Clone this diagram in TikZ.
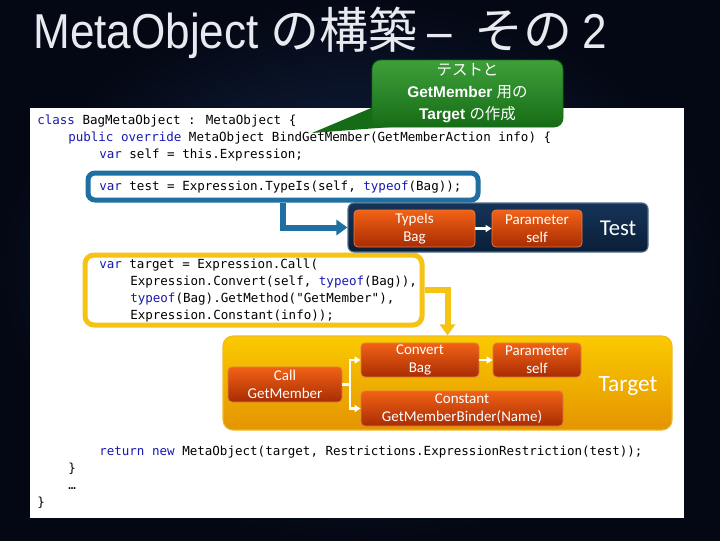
\documentclass[tikz,border=0pt]{standalone}
\usepackage{fontspec}
\setmainfont{Liberation Sans}
\newfontfamily\codefont{DejaVu Sans Mono}
\newfontfamily\jpfont{Noto Sans CJK JP}
\newfontfamily\calfont{Carlito}
\usetikzlibrary{arrows.meta}
\definecolor{bgin}{RGB}{22,42,82}
\definecolor{bgout}{RGB}{4,8,20}
\definecolor{titlecol}{RGB}{232,234,240}
\definecolor{kwcol}{RGB}{25,25,180}
\definecolor{blueline}{RGB}{30,112,162}
\definecolor{yelline}{RGB}{245,195,20}
\definecolor{greentop}{RGB}{62,160,58}
\definecolor{greenbot}{RGB}{22,108,22}
\definecolor{navytop}{RGB}{22,52,88}
\definecolor{navybot}{RGB}{10,30,56}
\definecolor{navybord}{RGB}{80,110,140}
\definecolor{ortop}{RGB}{242,98,22}
\definecolor{orbot}{RGB}{168,44,4}
\definecolor{orbord}{RGB}{225,125,70}
\definecolor{tgtop}{RGB}{250,202,0}
\definecolor{tgbot}{RGB}{228,148,0}
\definecolor{tgbord}{RGB}{240,185,40}
\newcommand{\kw}[1]{\textcolor{kwcol}{#1}}
\tikzset{
  codeline/.style={anchor=base west, inner sep=0pt, text=black,
    font=\codefont\fontsize{9.4}{11}\selectfont},
  titlepart/.style={anchor=base west, inner sep=0pt, text=titlecol,
    font=\fontsize{36.75}{40}\selectfont},
  orangebox/.style={draw=orbord, line width=0.6pt, rounded corners=3pt,
    top color=ortop, bottom color=orbot, text=white, align=center, inner sep=0pt,
    font=\calfont\fontsize{11.25}{13.5}\selectfont},
  codeframe/.style={line width=3.75pt, rounded corners=5.25pt, inner sep=0pt},
  bigarrow/.style={line width=4.5pt, -{Triangle[width=11.25pt,length=8.25pt]}},
  whitearrow/.style={white, line width=1.9pt, -{Triangle[width=5.25pt,length=4.5pt]}},
  biglabel/.style={text=white, inner sep=0pt, font=\calfont\fontsize{17}{20}\selectfont}
}
\begin{document}
\begin{tikzpicture}[x=0.75pt,y=-0.75pt]
\useasboundingbox (0,0) rectangle (720,540);
\shade[inner color=bgin, outer color=bgout] (0,0) rectangle (720,540);

% title
\node[titlepart] (t1) at (33,48) {\scalebox{0.9}[1]{MetaObject}};
\node[titlepart] (t2) at (270,48) {\jpfont の構築};
\node[titlepart] (t3) at (427,48) {\scalebox{0.9}[1]{–}};
\node[titlepart] (t4) at (474,48) {\jpfont その};
\node[titlepart] (t5) at (582,48) {\scalebox{0.9}[1]{2}};

% white panel
\fill[white] (30,108) rectangle (684,518);

% callout
\fill[greenbot] (376,106) -- (312,133) -- (404,126) -- cycle;
\node[draw=greenbot, line width=0.6pt, rounded corners=6.75pt, top color=greentop, bottom color=greenbot,
      minimum width=143.25pt, minimum height=50.25pt, inner sep=0pt, text=white, align=center,
      font=\fontsize{11.6}{16.5}\selectfont] (callout) at (467.5,93.5)
  {{\jpfont テストと}\\\textbf{GetMember} {\jpfont 用の}\\\textbf{Target} {\jpfont の作成}};

% code
\node[codeline] (c1) at (37,124) {\kw{class} BagMetaObject : MetaObject \{};
\node[codeline] (c2) at (68,141) {\kw{public} \kw{override} MetaObject BindGetMember(GetMemberAction info) \{};
\node[codeline] (c3) at (99,158) {\kw{var} self = this.Expression;};
\node[codeline] (c4) at (99,190.5) {\kw{var} test = Expression.TypeIs(self, \kw{typeof}(Bag));};
\node[codeline] (c5) at (99,268) {\kw{var} target = Expression.Call(};
\node[codeline] (c6) at (130,285) {Expression.Convert(self, \kw{typeof}(Bag)),};
\node[codeline] (c7) at (130,302) {\kw{typeof}(Bag).GetMethod("GetMember"),};
\node[codeline] (c8) at (130,319) {Expression.Constant(info));};
\node[codeline] (c9) at (99,455) {\kw{return} \kw{new} MetaObject(target, Restrictions.ExpressionRestriction(test));};
\node[codeline] (c10) at (68,472) {\}};
\node[codeline] (c11) at (68,489) {…};
\node[codeline] (c12) at (37,506) {\}};

% frames
\node[codeframe, draw=blueline, minimum width=292.5pt, minimum height=20.25pt] (bluebox) at (283,186.5) {};
\node[codeframe, draw=yelline, rounded corners=6.75pt, minimum width=252.75pt, minimum height=52.5pt] (yellowbox) at (253.5,290) {};

% test tree
\node[draw=navybord, line width=0.8pt, rounded corners=4.5pt, top color=navytop, bottom color=navybot,
      minimum width=225pt, minimum height=36.75pt, inner sep=0pt] (testbox) at (498,227.5) {};
\node[orangebox, minimum width=90.75pt, minimum height=27.75pt] (typeis) at (414.5,228.5) {TypeIs\\Bag};
\node[orangebox, minimum width=67.5pt, minimum height=27.75pt] (param1) at (537,228.5) {Parameter\\self};
\node[biglabel] (testlabel) at (618,228) {Test};
\draw[whitearrow] (typeis.east) -- (param1.west);

% target tree
\node[draw=tgbord, line width=0.8pt, rounded corners=7.5pt, top color=tgtop, bottom color=tgbot,
      minimum width=336.75pt, minimum height=70.5pt, inner sep=0pt] (targetbox) at (447.5,383) {};
\node[orangebox, minimum width=85.5pt, minimum height=26.25pt] (call) at (285,384.5) {Call\\GetMember};
\node[orangebox, minimum width=88.5pt, minimum height=25.5pt] (convert) at (420,360) {Convert\\Bag};
\node[orangebox, minimum width=66pt, minimum height=25.5pt] (param2) at (537,360) {Parameter\\self};
\node[orangebox, minimum width=151.5pt, minimum height=26.25pt] (const) at (462,408.5) {Constant\\GetMemberBinder(Name)};
\node[biglabel, font=\calfont\fontsize{17.5}{20}\selectfont] (targetlabel) at (628,386) {Target};
\coordinate (br) at (350,384.5);
\draw[white, line width=1.9pt] (call.east) -- (br);
\draw[whitearrow] (br) |- (convert.west);
\draw[whitearrow] (br) |- (const.west);
\draw[whitearrow] (convert.east) -- (param2.west);

% big arrows
\draw[bigarrow, blueline] (bluebox.south) |- (testbox.west);
\draw[bigarrow, yelline] (yellowbox.east) -| (targetbox.north);
\end{tikzpicture}
\end{document}
